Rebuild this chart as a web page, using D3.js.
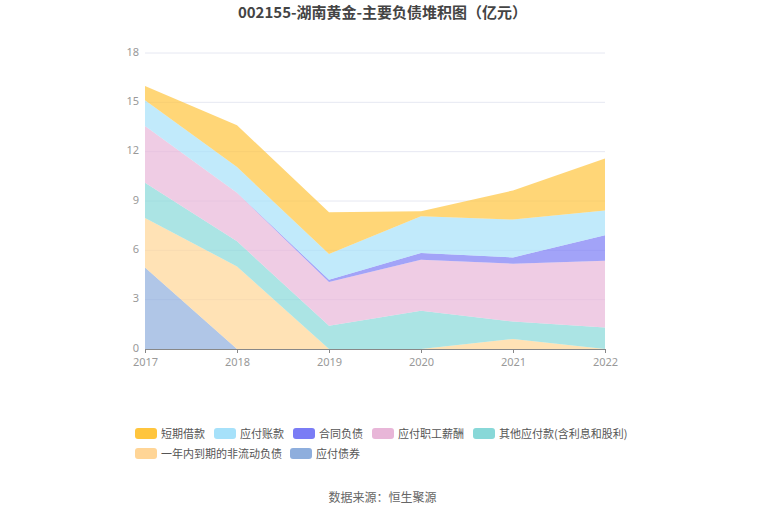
<!DOCTYPE html>
<html>
<head>
<meta charset="utf-8">
<script src="https://cdn.jsdelivr.net/npm/d3@7"></script>
<style>
  body { margin: 0; background: #fff; font-family: "Noto Sans CJK SC", "Noto Sans", sans-serif; }
</style>
</head>
<body>
<div id="chart"></div>
<script>
const years = ["2017", "2018", "2019", "2020", "2021", "2022"];
const seriesNames = ["短期借款", "应付账款", "合同负债", "应付职工薪酬", "其他应付款(含利息和股利)", "一年内到期的非流动负债", "应付债券"];
const seriesColors = ["#FFC53D", "#A6E1FA", "#7A7CF5", "#E8B6D8", "#88D8D8", "#FFD596", "#8EAEDD"];

const duanqi = [0.87, 2.55, 2.54, 0.31, 1.77, 3.17];
const yingfuZk = [1.57, 1.56, 1.57, 2.23, 2.30, 1.51];
const hetong = [0, 0, 0.14, 0.41, 0.38, 1.54];
const zhigong = [3.45, 2.95, 2.65, 3.11, 3.52, 4.07];
const qita = [2.14, 1.53, 1.42, 2.32, 1.06, 1.30];
const yinian = [3.01, 5.02, 0, 0, 0.61, 0];
const zhaiquan = [4.96, 0, 0, 0, 0, 0];
const yTicks = [0, 3, 6, 9, 12, 15, 18];

const allValues = [duanqi, yingfuZk, hetong, zhigong, qita, yinian, zhaiquan];

const width = 765, height = 517;
const margin = { top: 53, right: 160, bottom: 168, left: 145 };

const svg = d3.select("#chart").append("svg")
    .attr("width", width)
    .attr("height", height);

// one row per year for d3.stack
const rows = years.map((y, i) => {
    const r = { year: y };
    seriesNames.forEach((n, k) => { r[n] = allValues[k][i]; });
    return r;
});

// stack from bottom: 应付债券 first
const stackKeys = seriesNames.slice().reverse();
const stacked = d3.stack().keys(stackKeys)(rows);

const x = d3.scalePoint()
    .domain(years)
    .range([margin.left, width - margin.right]);

const y = d3.scaleLinear()
    .domain([0, 18])
    .range([height - margin.bottom, margin.top]);

// grid lines
svg.append("g")
    .selectAll("line")
    .data(yTicks.filter(d => d > 0))
    .enter()
    .append("line")
    .attr("x1", margin.left)
    .attr("x2", width - margin.right)
    .attr("y1", d => y(d))
    .attr("y2", d => y(d))
    .attr("stroke", "#e6e8f2")
    .attr("stroke-width", 1);

const area = d3.area()
    .x(d => x(d.data.year))
    .y0(d => y(d[0]))
    .y1(d => y(d[1]));

const colorOf = d3.scaleOrdinal().domain(seriesNames).range(seriesColors);

svg.append("g")
    .selectAll("path")
    .data(stacked)
    .enter()
    .append("path")
    .attr("d", area)
    .attr("fill", d => colorOf(d.key))
    .attr("fill-opacity", 0.7);

// y axis labels
svg.append("g")
    .attr("transform", "translate(" + margin.left + ",0)")
    .call(d3.axisLeft(y).tickValues(yTicks).tickSize(0).tickPadding(6))
    .call(g => g.select(".domain").remove())
    .selectAll("text")
    .attr("dy", "0.2em")
    .style("font-size", "11px")
    .style("font-family", "Noto Sans, sans-serif")
    .attr("fill", "#999");

// x axis
svg.append("g")
    .attr("transform", "translate(0," + (height - margin.bottom) + ")")
    .call(d3.axisBottom(x).tickSize(4).tickPadding(5))
    .call(g => g.select(".domain").attr("stroke", "#888"))
    .call(g => g.selectAll(".tick line").attr("stroke", "#888"))
    .selectAll("text")
    .style("font-size", "11px")
    .style("font-family", "Noto Sans, sans-serif")
    .attr("fill", "#999");

// title
svg.append("text")
    .attr("x", width / 2)
    .attr("y", 18)
    .attr("text-anchor", "middle")
    .style("font-size", "15px")
    .style("font-weight", "bold")
    .attr("fill", "#444")
    .text("002155-湖南黄金-主要负债堆积图（亿元）");

// legend
const legendPos = [
    [135, 428], [214, 428], [293, 428], [372, 428], [473, 428],
    [135, 448], [290, 448]
];
const legend = svg.append("g")
    .selectAll("g")
    .data(seriesNames)
    .enter()
    .append("g")
    .attr("transform", (d, i) => "translate(" + legendPos[i][0] + "," + legendPos[i][1] + ")");

legend.append("rect")
    .attr("width", 22)
    .attr("height", 11)
    .attr("rx", 3)
    .attr("fill", d => colorOf(d));

legend.append("text")
    .attr("x", 26)
    .attr("y", 10)
    .style("font-size", "11px")
    .attr("fill", "#555")
    .text(d => d);

// source
svg.append("text")
    .attr("x", width / 2)
    .attr("y", 502)
    .attr("text-anchor", "middle")
    .style("font-size", "12px")
    .attr("fill", "#666")
    .text("数据来源：恒生聚源");
</script>
</body>
</html>
